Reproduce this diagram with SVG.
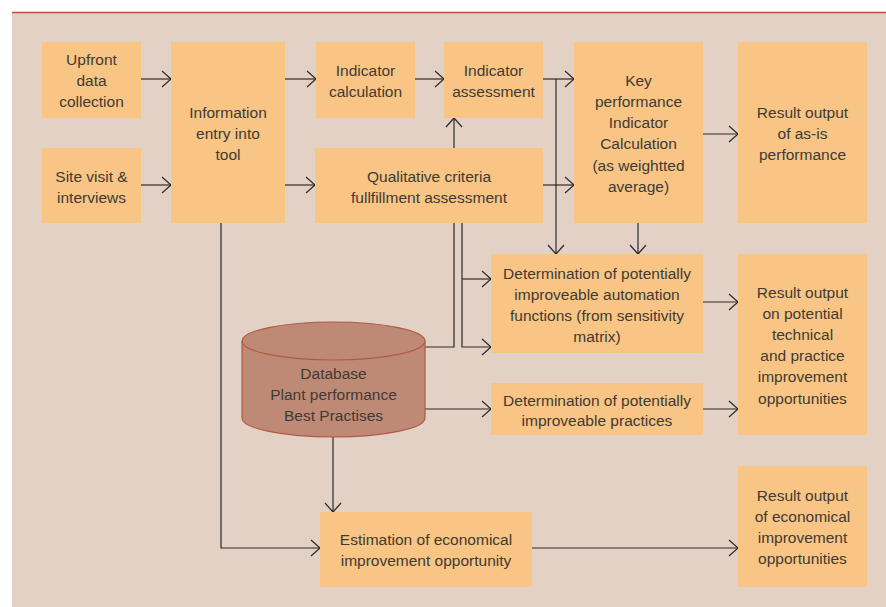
<svg xmlns="http://www.w3.org/2000/svg" width="886" height="607" viewBox="0 0 886 607">
<defs>
<style>
.box{fill:#f8c584;}
.t{font-family:"Liberation Sans",Arial,sans-serif;font-size:15.5px;fill:#3f3a36;text-anchor:middle;}
.c{fill:none;stroke:#2e2a28;stroke-width:1.2;}
</style>
<marker id="ah" markerUnits="userSpaceOnUse" markerWidth="20" markerHeight="20" viewBox="-10 -10 20 20" refX="0" refY="0" orient="auto">
<path d="M-9,-8 L0,0 L-9,8" fill="none" stroke="#2e2a28" stroke-width="1.2"/>
</marker>
</defs>
<rect x="0" y="0" width="886" height="607" fill="#ffffff"/>
<rect x="12" y="13" width="874" height="594" fill="#e2d1c4"/>
<line x1="12" y1="12.5" x2="886" y2="12.5" stroke="#b5523b" stroke-width="1.5"/>

<g id="connectors">
<line class="c" x1="141" y1="79" x2="171" y2="79" marker-end="url(#ah)"/>
<line class="c" x1="141" y1="185" x2="171" y2="185" marker-end="url(#ah)"/>
<line class="c" x1="285" y1="79" x2="316" y2="79" marker-end="url(#ah)"/>
<line class="c" x1="285" y1="185" x2="315" y2="185" marker-end="url(#ah)"/>
<line class="c" x1="415" y1="79" x2="444" y2="79" marker-end="url(#ah)"/>
<line class="c" x1="454" y1="148" x2="454" y2="118" marker-end="url(#ah)"/>
<line class="c" x1="543" y1="79" x2="574" y2="79" marker-end="url(#ah)"/>
<polyline class="c" points="556,79 556,254" marker-end="url(#ah)"/>
<line class="c" x1="543" y1="185" x2="574" y2="185" marker-end="url(#ah)"/>
<line class="c" x1="638" y1="223" x2="638" y2="254" marker-end="url(#ah)"/>
<line class="c" x1="703" y1="134" x2="738" y2="134" marker-end="url(#ah)"/>
<polyline class="c" points="425,347 454,347 454,223"/>
<polyline class="c" points="462,223 462,347 491,347" marker-end="url(#ah)"/>
<line class="c" x1="462" y1="279" x2="491" y2="279" marker-end="url(#ah)"/>
<line class="c" x1="425" y1="409" x2="491" y2="409" marker-end="url(#ah)"/>
<line class="c" x1="703" y1="302" x2="738" y2="302" marker-end="url(#ah)"/>
<line class="c" x1="703" y1="409" x2="738" y2="409" marker-end="url(#ah)"/>
<polyline class="c" points="221,223 221,548 320,548" marker-end="url(#ah)"/>
<line class="c" x1="333" y1="437" x2="333" y2="512" marker-end="url(#ah)"/>
<line class="c" x1="532" y1="548" x2="738" y2="548" marker-end="url(#ah)"/>
</g>

<g id="upfront">
<rect class="box" x="42" y="42" width="99" height="76"/>
<text class="t" x="91.5" y="65">Upfront</text>
<text class="t" x="91.5" y="86">data</text>
<text class="t" x="91.5" y="107">collection</text>
</g>
<g id="site-visit">
<rect class="box" x="42" y="148" width="99" height="75"/>
<text class="t" x="91.5" y="182">Site visit &amp;</text>
<text class="t" x="91.5" y="203">interviews</text>
</g>
<g id="info-entry">
<rect class="box" x="171" y="42" width="114" height="181"/>
<text class="t" x="228" y="118">Information</text>
<text class="t" x="228" y="139">entry into</text>
<text class="t" x="228" y="160">tool</text>
</g>
<g id="indicator-calc">
<rect class="box" x="316" y="42" width="99" height="76"/>
<text class="t" x="365.5" y="76">Indicator</text>
<text class="t" x="365.5" y="97">calculation</text>
</g>
<g id="indicator-assess">
<rect class="box" x="444" y="42" width="99" height="76"/>
<text class="t" x="493.5" y="76">Indicator</text>
<text class="t" x="493.5" y="97">assessment</text>
</g>
<g id="qualitative">
<rect class="box" x="315" y="148" width="228" height="75"/>
<text class="t" x="429" y="182">Qualitative criteria</text>
<text class="t" x="429" y="203">fullfillment assessment</text>
</g>
<g id="kpi">
<rect class="box" x="574" y="42" width="129" height="181"/>
<text class="t" x="638.5" y="86">Key</text>
<text class="t" x="638.5" y="107">performance</text>
<text class="t" x="638.5" y="128">Indicator</text>
<text class="t" x="638.5" y="149">Calculation</text>
<text class="t" x="638.5" y="171">(as weightted</text>
<text class="t" x="638.5" y="192">average)</text>
</g>
<g id="result-asis">
<rect class="box" x="738" y="42" width="129" height="181"/>
<text class="t" x="802.5" y="118">Result output</text>
<text class="t" x="802.5" y="139">of as-is</text>
<text class="t" x="802.5" y="160">performance</text>
</g>
<g id="det-automation">
<rect class="box" x="491" y="254" width="212" height="99"/>
<text class="t" x="597" y="279">Determination of potentially</text>
<text class="t" x="597" y="300">improveable automation</text>
<text class="t" x="597" y="321">functions (from sensitivity</text>
<text class="t" x="597" y="342">matrix)</text>
</g>
<g id="result-potential">
<rect class="box" x="738" y="254" width="129" height="181"/>
<text class="t" x="802.5" y="298">Result output</text>
<text class="t" x="802.5" y="319">on potential</text>
<text class="t" x="802.5" y="340">technical</text>
<text class="t" x="802.5" y="361">and practice</text>
<text class="t" x="802.5" y="382">improvement</text>
<text class="t" x="802.5" y="404">opportunities</text>
</g>
<g id="det-practices">
<rect class="box" x="491" y="383" width="212" height="52"/>
<text class="t" x="597" y="406">Determination of potentially</text>
<text class="t" x="597" y="426">improveable practices</text>
</g>
<g id="database">
<path d="M242,341 L242,418 A91.5,19 0 0 0 425,418 L425,341" fill="#bf8a75" stroke="#b05a45" stroke-width="1.2"/>
<ellipse cx="333.5" cy="341" rx="91.5" ry="19" fill="#bf8a75" stroke="#b05a45" stroke-width="1.2"/>
<text class="t" x="333.5" y="379">Database</text>
<text class="t" x="333.5" y="400">Plant performance</text>
<text class="t" x="333.5" y="421">Best Practises</text>
</g>
<g id="estimation">
<rect class="box" x="320" y="512" width="212" height="75"/>
<text class="t" x="426" y="545">Estimation of economical</text>
<text class="t" x="426" y="566">improvement opportunity</text>
</g>
<g id="result-economical">
<rect class="box" x="738" y="466" width="129" height="121"/>
<text class="t" x="802.5" y="501">Result output</text>
<text class="t" x="802.5" y="522">of economical</text>
<text class="t" x="802.5" y="543">improvement</text>
<text class="t" x="802.5" y="564">opportunities</text>
</g>
</svg>
